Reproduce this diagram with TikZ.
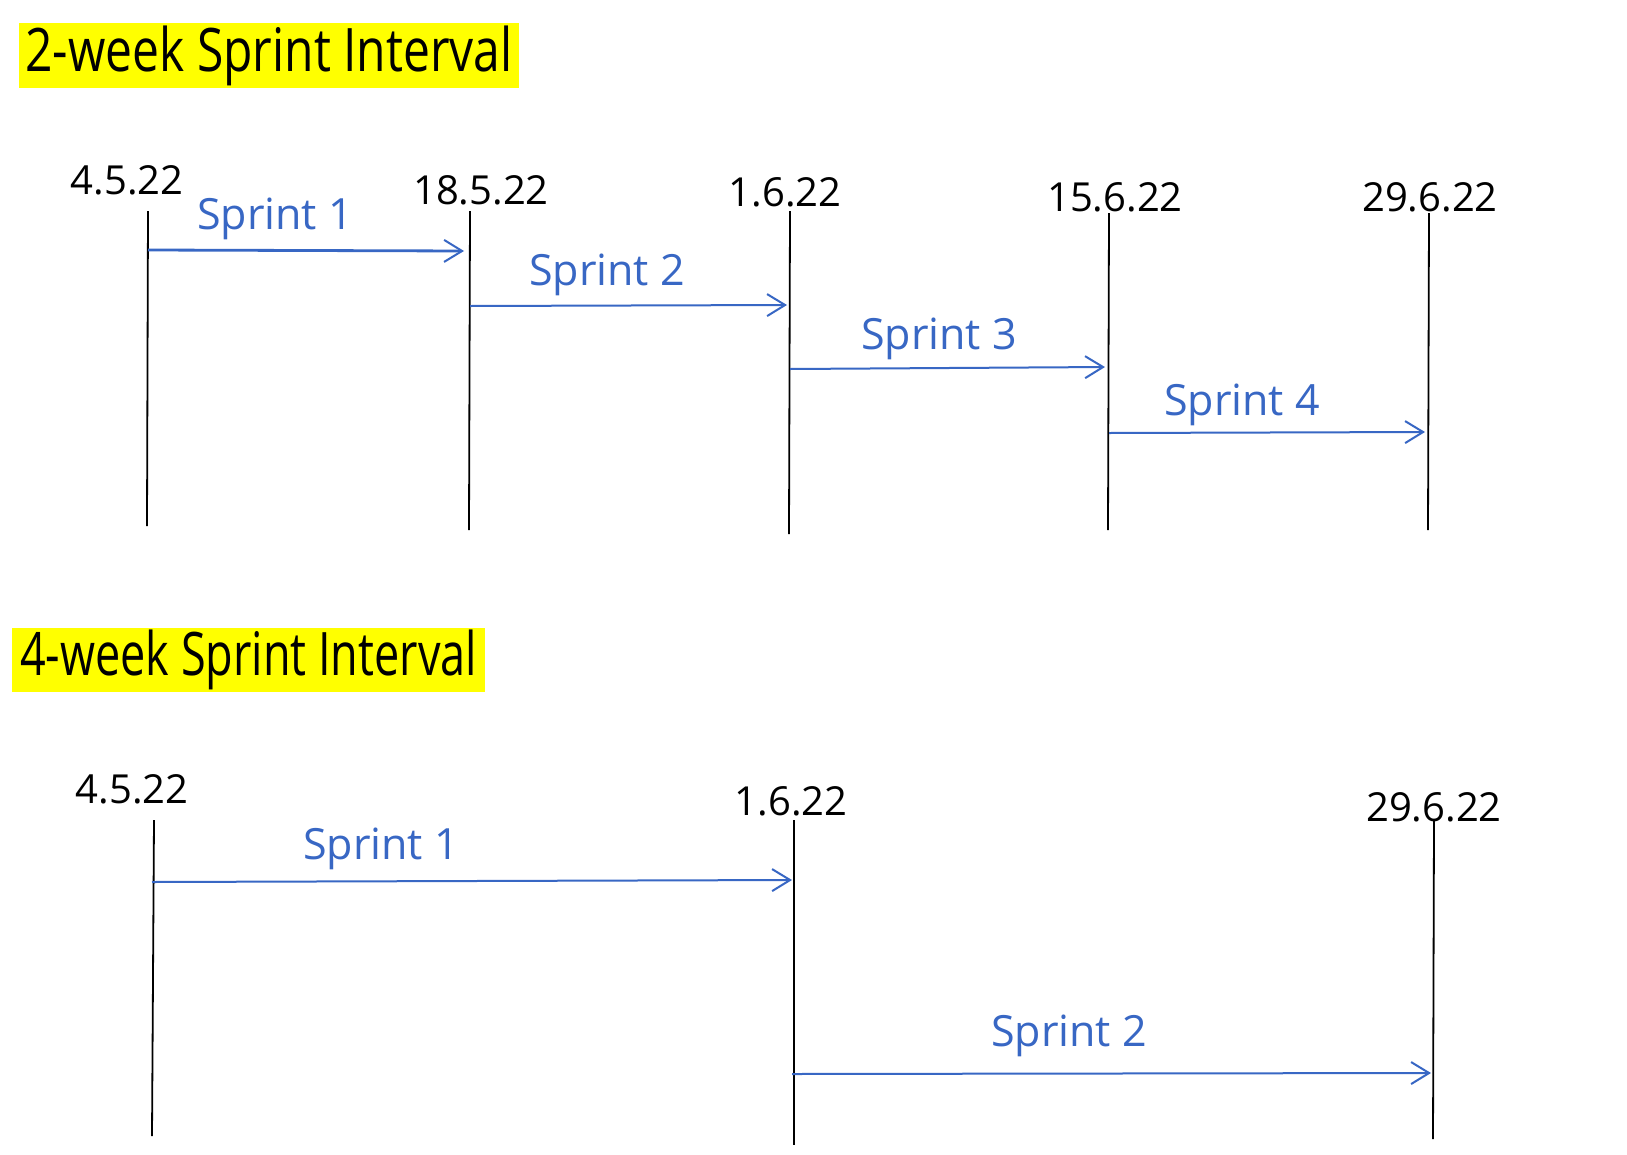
\documentclass[tikz,border=0pt]{standalone}
\usepackage{fontspec}
\setmainfont{Open Sans}
\usetikzlibrary{arrows.meta}
\definecolor{sprintblue}{HTML}{3867C4}
\definecolor{hl}{HTML}{FFFF00}
\tikzset{
  tick/.style={draw=black, line width=1.8pt},
  sprintarrow/.style={draw=sprintblue, line width=2pt, -{Straight Barb[length=18pt,width=22pt,line width=2pt]}, shorten >=2pt},
  datelbl/.style={font=\fontsize{40}{48}\selectfont, inner sep=0pt, text=black},
  sprintlbl/.style={font=\fontsize{43}{50}\selectfont, inner sep=0pt, text=sprintblue},
  titlebox/.style={fill=hl, inner sep=0pt, font=\fontsize{60}{68}\selectfont},
}
\begin{document}
\begin{tikzpicture}[x=1pt,y=-1pt]
\useasboundingbox[fill=white] (0,0) rectangle (1627,1154);

% ---------- 2-week section ----------
\node[titlebox, minimum width=500pt, minimum height=65pt] (t1) at (269,55.5) {\scalebox{0.8}[1]{2-week Sprint Interval}};

\coordinate (l1t) at (148,211); \coordinate (l1b) at (147,526);
\coordinate (l2t) at (470,211); \coordinate (l2b) at (469,530);
\coordinate (l3t) at (790,211); \coordinate (l3b) at (789,534);
\coordinate (l4t) at (1109,213); \coordinate (l4b) at (1108,530);
\coordinate (l5t) at (1429,213); \coordinate (l5b) at (1428,530);
\foreach \i in {1,...,5} { \draw[tick] (l\i t) -- (l\i b); }

\node[datelbl] (d1) at (127,180) {4.5.22};
\node[datelbl] (d2) at (481,190) {18.5.22};
\node[datelbl] (d3) at (785,192) {1.6.22};
\node[datelbl] (d4) at (1115,197) {15.6.22};
\node[datelbl] (d5) at (1430,197) {29.6.22};

\coordinate (s1a) at (148,250); \coordinate (s1b) at (466,251);
\coordinate (s2a) at (470,306); \coordinate (s2b) at (789,305);
\coordinate (s3a) at (790,369); \coordinate (s3b) at (1107,367);
\coordinate (s4a) at (1109,433); \coordinate (s4b) at (1427,432);
\draw[sprintarrow, line width=2.8pt] (s1a) -- (s1b);
\draw[sprintarrow] (s2a) -- (s2b);
\draw[sprintarrow] (s3a) -- (s3b);
\draw[sprintarrow] (s4a) -- (s4b);

\node[sprintlbl] (sp1) at (275,219) {Sprint 1};
\node[sprintlbl] (sp2) at (607,275) {Sprint 2};
\node[sprintlbl] (sp3) at (939,339) {Sprint 3};
\node[sprintlbl] (sp4) at (1242,405) {Sprint 4};

% ---------- 4-week section ----------
\node[titlebox, minimum width=473pt, minimum height=64pt] (t2) at (248.5,660) {\scalebox{0.75}[1]{4-week Sprint Interval}};

\coordinate (m1t) at (154,820); \coordinate (m1b) at (152,1136);
\coordinate (m2t) at (794,820); \coordinate (m2b) at (794,1145);
\coordinate (m3t) at (1434,820); \coordinate (m3b) at (1433,1139);
\foreach \i in {1,2,3} { \draw[tick] (m\i t) -- (m\i b); }

\node[datelbl] (e1) at (132,789) {4.5.22};
\node[datelbl] (e2) at (791,801) {1.6.22};
\node[datelbl] (e3) at (1434,807) {29.6.22};

\coordinate (u1a) at (152,882); \coordinate (u1b) at (794,880);
\coordinate (u2a) at (792,1074); \coordinate (u2b) at (1433,1073);
\draw[sprintarrow] (u1a) -- (u1b);
\draw[sprintarrow] (u2a) -- (u2b);

\node[sprintlbl] (up1) at (381,849) {Sprint 1};
\node[sprintlbl] (up2) at (1069,1036) {Sprint 2};
\end{tikzpicture}
\end{document}
